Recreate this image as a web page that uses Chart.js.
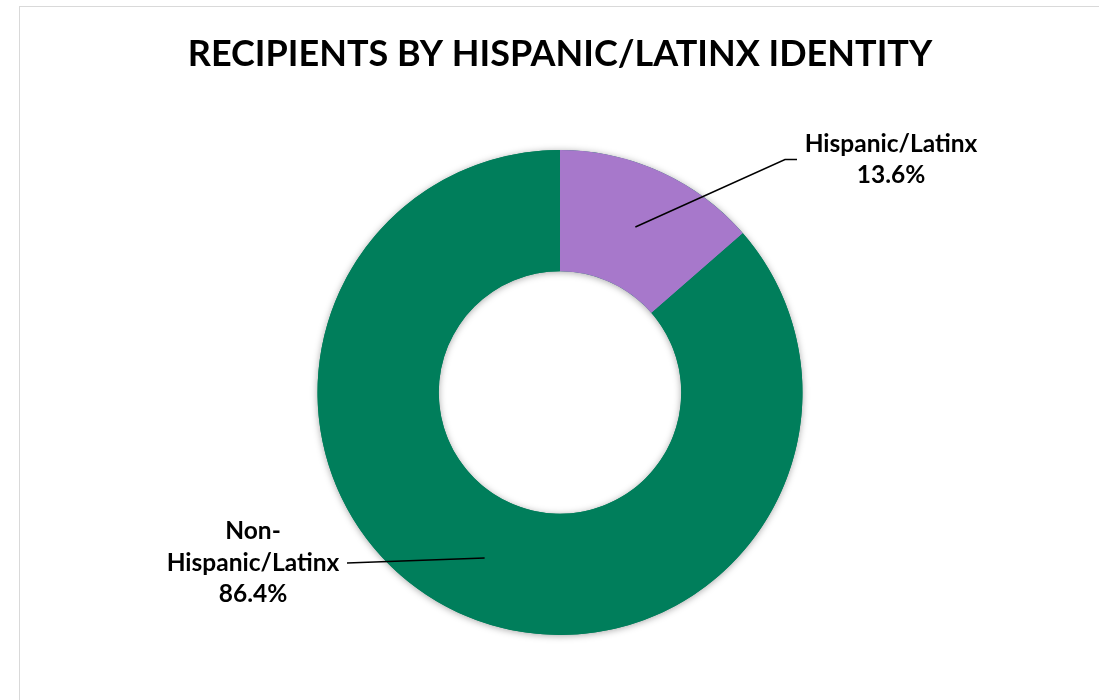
<!DOCTYPE html>
<html>
<head>
<meta charset="utf-8">
<title>Recipients by Hispanic/Latinx identity</title>
<script src="https://cdn.jsdelivr.net/npm/chart.js@4/dist/chart.umd.min.js"></script>
<style>
  html, body { margin: 0; padding: 0; background: #fff; overflow: hidden; }
  #wrap { position: relative; width: 1099px; height: 700px; }
  #frame { position: absolute; left: 19px; top: 6px; width: 1100px; height: 720px; border: 1px solid #d9d9d9; box-sizing: border-box; }
  canvas { position: absolute; left: 0; top: 0; }
</style>
</head>
<body>
<div id="wrap">
  <div id="frame"></div>
  <canvas id="idChart" width="1099" height="700"></canvas>
</div>
<script>
const TITLE = "RECIPIENTS BY HISPANIC/LATINX IDENTITY";
const categories = ["Hispanic/Latinx", "Non-Hispanic/Latinx"];
// how each category name is broken over lines in its callout
const labelLines = [["Hispanic/Latinx"], ["Non-", "Hispanic/Latinx"]];
const shares = [13.6, 86.4];
const colors = ["#A778CB", "#007E5B"];

const FONT = "Lato, 'Open Sans', sans-serif";

// soft shadow under the whole ring, painted once so it never falls across a slice edge
const ringShadow = {
  id: "ringShadow",
  beforeDatasetsDraw(chart) {
    const arc = chart.getDatasetMeta(0).data[0];
    if (!arc) return;
    const { x, y, outerRadius, innerRadius } = arc.getProps(["x", "y", "outerRadius", "innerRadius"], true);
    const ctx = chart.ctx;
    ctx.save();
    ctx.shadowColor = "rgba(0,0,0,0.35)";
    ctx.shadowBlur = 7;
    ctx.shadowOffsetY = 1;
    ctx.fillStyle = colors[1];
    ctx.beginPath();
    ctx.arc(x, y, outerRadius, 0, Math.PI * 2);
    ctx.arc(x, y, innerRadius, 0, Math.PI * 2, true);
    ctx.fill();
    ctx.restore();
  }
};

// title plus the callout labels with their leader lines
const callouts = {
  id: "callouts",
  afterDatasetsDraw(chart, args, opts) {
    const ctx = chart.ctx;
    const area = chart.chartArea;
    const cx = (area.left + area.right) / 2;
    const cy = (area.top + area.bottom) / 2;

    ctx.save();
    ctx.fillStyle = "#000";
    ctx.textAlign = "center";
    ctx.textBaseline = "middle";
    ctx.font = "bold " + opts.titleSize + "px " + FONT;
    ctx.fillText(TITLE, cx, opts.titleY);

    const meta = chart.getDatasetMeta(0);
    ctx.font = "bold " + opts.labelSize + "px " + FONT;
    opts.spots.forEach((spot, i) => {
      const lines = labelLines[i].concat([shares[i].toFixed(1) + "%"]);
      const tx = cx + spot.dx;
      const ty = cy + spot.dy;
      const top = ty - (lines.length - 1) * opts.lineHeight / 2;
      lines.forEach((line, k) => ctx.fillText(line, tx, top + k * opts.lineHeight));

      const p = meta.data[i].getCenterPoint(true);
      const endX = cx + spot.lineDx;
      const dir = spot.lineDx > 0 ? -1 : 1;
      ctx.beginPath();
      ctx.moveTo(endX, ty);
      ctx.lineTo(endX + dir * spot.elbow, ty);
      ctx.lineTo(p.x, p.y);
      ctx.strokeStyle = "#000";
      ctx.lineWidth = 1.5;
      ctx.stroke();
    });
    ctx.restore();
  }
};

new Chart(document.getElementById("idChart"), {
  type: "doughnut",
  data: {
    labels: categories,
    datasets: [{
      data: shares,
      backgroundColor: colors,
      borderWidth: 0,
      hoverOffset: 0
    }]
  },
  options: {
    responsive: false,
    animation: false,
    cutout: "50%",
    layout: { padding: { left: 317.5, right: 296.5, top: 150, bottom: 65 } },
    plugins: {
      legend: { display: false },
      title: { display: false },
      tooltip: { enabled: false },
      callouts: {
        titleSize: 36,
        titleY: 54,
        labelSize: 24.5,
        lineHeight: 31.5,
        spots: [
          { dx: 331, dy: -233, lineDx: 237, elbow: 12 },
          { dx: -307, dy: 170.5, lineDx: -213, elbow: 0 }
        ]
      }
    }
  },
  plugins: [ringShadow, callouts]
});
</script>
</body>
</html>
